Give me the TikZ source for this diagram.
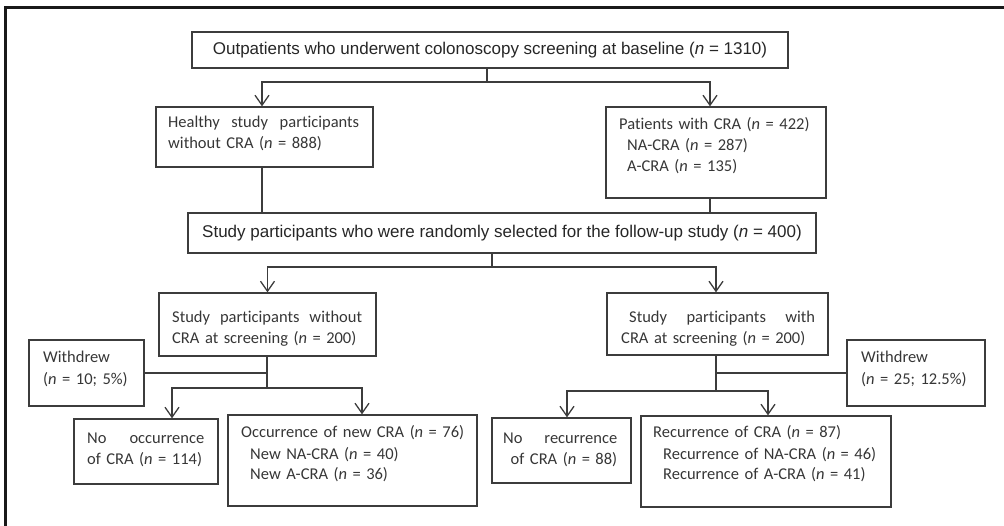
\documentclass[tikz,border=0pt]{standalone}
\usepackage{fontspec}
\setmainfont{Carlito}[Ligatures=NoCommon]
\newfontfamily\arialfont{Liberation Sans}
\usetikzlibrary{arrows.meta}
\definecolor{lc}{HTML}{3C3C3C}
\definecolor{tc}{HTML}{363636}
\tikzstyle{bx}=[draw=lc,line width=1.3pt,inner sep=0pt]
\tikzstyle{tt}=[text=tc,inner sep=0pt,anchor=base west,align=left,font=\fontsize{16.5}{21}\selectfont]
\tikzstyle{hd}=[text=black!85,font=\arialfont\fontsize{17}{20}\selectfont]
\tikzstyle{cn}=[draw=lc,line width=1.3pt]
\tikzstyle{ar}=[cn,-{Straight Barb[length=10pt,width=14pt]}]

\begin{document}
\begin{tikzpicture}[x=1pt,y=-1pt]
\useasboundingbox (0,0) rectangle (1004,526);
\draw[line width=2.8pt,color=black!90] (5.4,526) -- (5.4,7.4) -- (1004,7.4);

\draw (490,50) node[bx,hd,minimum width=596pt,minimum height=36pt] (top) {Outpatients who underwent colonoscopy screening at baseline (\textit{n} = 1310)};
\draw (264.5,137) node[bx,minimum width=217pt,minimum height=60pt] (hlt) {};
\draw (168,128) node[tt,text width=191pt] (hlt-t) {Healthy\hfill study\hfill participants\\without CRA (\textit{n} = 888)};
\draw (716,152.5) node[bx,minimum width=220pt,minimum height=91pt] (pat) {};
\draw (619,130) node[tt,text width=200pt] (pat-t) {Patients with CRA (\textit{n} = 422)\\\hspace*{8pt}NA-CRA (\textit{n} = 287)\\\hspace*{8pt}A-CRA (\textit{n} = 135)};
\draw (502,233) node[bx,hd,minimum width=628pt,minimum height=40pt] (sel) {Study participants who were randomly selected for the follow-up study (\textit{n} = 400)};

\draw (267.5,324.5) node[bx,minimum width=217pt,minimum height=63pt] (wo) {};
\draw (172,323) node[tt,text width=190pt] (wo-t) {Study\hfill participants\hfill without\\CRA at screening (\textit{n} = 200)};
\draw (717.5,324) node[bx,minimum width=221pt,minimum height=62pt] (wi) {};
\draw (621,323) node[tt,text width=194pt] (wi-t) {\hspace*{8pt}Study\hfill participants\hfill with\\CRA at screening (\textit{n} = 200)};
\draw (86.5,373) node[bx,minimum width=115pt,minimum height=66pt] (wdl) {};
\draw (43,363) node[tt,text width=95pt] (wdl-t) {Withdrew\\(\textit{n} = 10; 5\%)};
\draw (916,373) node[bx,minimum width=138pt,minimum height=66pt] (wdr) {};
\draw (861,363) node[tt,text width=120pt] (wdr-t) {Withdrew\\(\textit{n} = 25; 12.5\%)};

\draw (146,451.5) node[bx,minimum width=144pt,minimum height=65pt] (noc) {};
\draw (87,443) node[tt,text width=117pt] (noc-t) {No\hfill occurrence\\of CRA (\textit{n} = 114)};
\draw (352.5,460.5) node[bx,minimum width=249pt,minimum height=91pt] (occ) {};
\draw (241,438) node[tt,text width=230pt] (occ-t) {Occurrence of new CRA (\textit{n} = 76)\\\hspace*{9pt}New NA-CRA (\textit{n} = 40)\\\hspace*{9pt}New A-CRA (\textit{n} = 36)};
\draw (561.5,450.5) node[bx,minimum width=139pt,minimum height=65pt] (nrc) {};
\draw (503,443) node[tt,text width=114pt] (nrc-t) {No\hfill recurrence\\\hfill of CRA (\textit{n} = 88)};
\draw (766,461.5) node[bx,minimum width=250pt,minimum height=91pt] (rec) {};
\draw (653,438) node[tt,text width=230pt] (rec-t) {Recurrence of CRA (\textit{n} = 87)\\\hspace*{10pt}Recurrence of NA-CRA (\textit{n} = 46)\\\hspace*{10pt}Recurrence of A-CRA (\textit{n} = 41)};

\coordinate (j1) at (487,82);
\draw[cn] (top.south -| j1) -- (j1);
\draw[ar] (j1) -| ([xshift=-2.5pt]hlt.north);
\draw[ar] (j1) -| ([xshift=-6pt]pat.north);
\draw[cn] ([xshift=-2.5pt]hlt.south) -- ([xshift=-2.5pt]hlt.south |- sel.north);
\draw[cn] ([xshift=-6pt]pat.south) -- ([xshift=-6pt]pat.south |- sel.north);

\coordinate (j2) at (492,267);
\draw[cn] (sel.south -| j2) -- (j2);
\draw[ar] (j2) -| (wo.north);
\draw[ar] (j2) -| ([xshift=-1.5pt]wi.north);

\coordinate (j3) at (267,388);
\draw[cn] (wo.south -| j3) -- (j3);
\draw[cn] (wdl.east) -- (wdl.east -| j3);
\draw[ar] (j3) -| ([xshift=26pt]noc.north);
\draw[ar] (j3) -| ([xshift=9.5pt]occ.north);

\coordinate (j4) at (716,391);
\draw[cn] (wi.south -| j4) -- (j4);
\draw[cn] (wdr.west) -- (wdr.west -| j4);
\draw[ar] (j4) -| ([xshift=5.5pt]nrc.north);
\draw[ar] (j4) -| ([xshift=2pt]rec.north);
\end{tikzpicture}
\end{document}
